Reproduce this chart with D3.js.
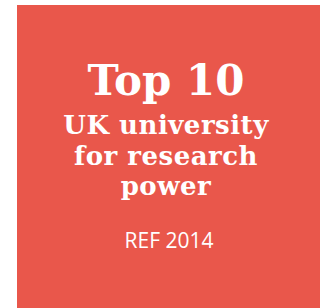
<!DOCTYPE html>
<html>
<head>
<meta charset="utf-8">
<script src="https://cdn.jsdelivr.net/npm/d3@7.9.0/dist/d3.min.js"></script>
<style>
  html, body { margin: 0; padding: 0; background: #fff; }
  svg { display: block; }
</style>
</head>
<body>
<svg id="card" width="327" height="308"></svg>
<script>
// Headline lines and the small caption
const headline = ["Top 10"];
const bodyLines = ["UK university", "for research", "power"];
const caption = ["REF 2014"];

const width = 327, height = 308;
const svg = d3.select("#card");

// Red panel
svg.append("rect")
  .attr("x", 17)
  .attr("y", 5)
  .attr("width", 303)
  .attr("height", height - 5)
  .attr("fill", "#e9574b");

const cx = 166;

// Big title
svg.selectAll("text.head")
  .data(headline)
  .join("text")
  .attr("class", "head")
  .attr("x", cx)
  .attr("y", 95)
  .attr("text-anchor", "middle")
  .attr("fill", "#fff")
  .style("font-family", "'DejaVu Serif', serif")
  .style("font-weight", "bold")
  .style("font-size", "42px")
  .text(d => d);

// Baselines of the three body lines
let y = d3.scalePoint()
  .domain(bodyLines)
  .range([134, 195]);

svg.selectAll("text.body")
  .data(bodyLines)
  .join("text")
  .attr("class", "body")
  .attr("x", cx)
  .attr("y", d => y(d))
  .attr("text-anchor", "middle")
  .attr("fill", "#fff")
  .style("font-family", "'DejaVu Serif', serif")
  .style("font-weight", "bold")
  .style("font-size", "26px")
  .style("letter-spacing", "0.5px")
  .text(d => d);

// Caption
svg.selectAll("text.cap")
  .data(caption)
  .join("text")
  .attr("class", "cap")
  .attr("x", 169)
  .attr("y", 248)
  .attr("text-anchor", "middle")
  .attr("fill", "#fff")
  .style("font-family", "'Open Sans', sans-serif")
  .style("font-size", "21px")
  .text(d => d);
</script>
</body>
</html>
